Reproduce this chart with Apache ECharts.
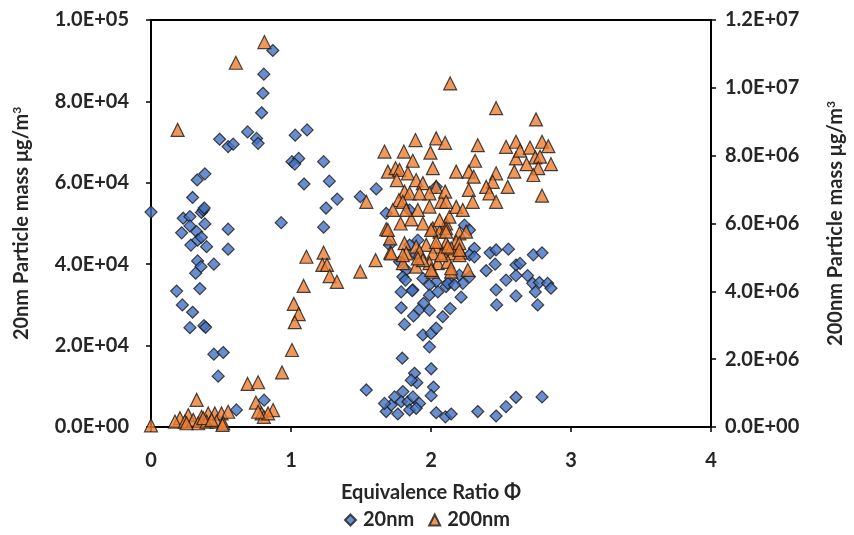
<!DOCTYPE html>
<html><head><meta charset="utf-8">
<script src="https://cdn.jsdelivr.net/npm/echarts@6/dist/echarts.min.js"></script>
<style>html,body{margin:0;padding:0;background:#fff}#c{width:854px;height:535px}</style>
</head><body><div id="c"></div>
<script>
// Equivalence ratio (x) and 20nm particle mass (µg/m3)
var phi20 = [0,0.23,0.278,0.36,0.373,0.219,0.278,0.326,0.385,0.551,0.285,0.333,0.36,0.397,0.551,0.333,0.357,0.319,0.449,0.349,0.183,0.224,0.297,0.278,0.378,0.39,0.449,0.516,0.48,0.61,0.808,0.385,0.33,0.297,0.38,0.49,0.551,0.587,0.69,0.754,0.765,0.79,0.80,0.806,0.87,0.93,1.03,1.115,1.007,1.055,1.027,1.233,1.093,1.274,1.33,1.25,1.233,1.495,1.609,1.68,2.037,1.847,2.239,2.275,1.906,1.847,1.704,2.31,2.275,1.894,1.775,1.823,1.799,1.942,2.037,2.132,2.203,2.275,1.870,1.989,2.108,2.227,1.818,1.787,1.866,1.787,1.811,1.875,1.918,1.947,1.989,1.942,1.989,2.001,2.037,2.084,2.137,2.215,1.989,2.049,2.12,2.168,2.31,2.394,2.458,2.422,2.553,2.465,2.469,2.536,2.607,2.607,2.465,2.731,2.793,2.636,2.607,2.69,2.726,2.774,2.833,2.857,2.745,2.762,1.795,2.001,1.882,1.899,1.859,2.018,2.001,1.538,1.68,1.716,1.74,1.799,1.787,1.835,1.871,1.918,1.847,1.763,1.894,1.668,2.037,2.103,2.144,2.334,2.465,2.536,2.607,2.793];
var mass20 = [52800,51300,51700,52700,53300,47700,49400,48000,49900,48600,44700,45900,46600,44300,43700,40800,39400,37800,40000,34000,33400,30000,28200,24400,24900,24500,17900,18300,12500,4200,6600,62200,60700,56400,53800,70700,68900,69500,72500,70900,69700,77200,82000,86700,92500,50200,71700,73000,65200,66000,64600,65200,59700,60400,56000,53800,49100,56600,58500,52500,59000,53300,49600,48400,45900,44700,44700,43900,42300,42300,40600,38600,36900,36500,35700,35700,37300,36900,33700,34900,34500,35300,36100,33200,33500,29300,25200,27300,28900,30400,28700,22600,19700,23000,24300,27100,29100,31900,32400,33200,35300,34900,41800,38400,40000,42800,43700,33700,30000,36100,32200,39800,43500,42300,42800,40200,37200,37200,35300,35500,35300,34100,33200,30000,16900,14300,13200,10900,11500,9800,7700,9100,3800,5400,7400,8700,6200,6200,7400,5800,4200,3200,4600,5800,3500,2500,3200,3800,2700,5000,7300,7400];
// Equivalence ratio (x) and 200nm particle mass (µg/m3)
var phi200 = [0,0.81,0.606,0.19,1.11,1.233,1.224,1.257,1.276,1.328,1.09,1.02,1.055,1.027,1.007,0.936,0.69,0.765,0.749,0.872,0.79,0.806,0.326,0.266,0.207,0.171,0.242,0.302,0.361,0.409,0.456,0.504,0.551,0.337,0.397,0.468,0.516,0.373,0.836,0.765,0.254,0.433,0.511,1.495,1.604,1.68,1.709,1.709,1.783,1.859,1.942,2.013,2.108,2.203,2.061,1.811,1.894,1.966,2.037,2.108,2.18,2.251,1.823,1.918,2.013,2.084,2.156,2.215,1.799,1.894,1.989,2.049,2.12,1.942,2.144,2.263,2.013,1.989,2.073,2.132,1.692,2.001,2.061,2.108,2.037,2.144,2.203,1.716,1.799,1.906,2.001,2.073,2.203,2.108,2.12,2.203,2.144,1.668,1.806,1.889,2.037,2.101,1.996,1.870,2.334,2.315,2.536,2.607,2.607,2.180,2.270,2.305,2.465,2.441,2.548,2.595,1.692,1.747,1.775,1.835,1.756,1.894,1.942,2.013,2.037,2.101,1.989,1.811,1.847,1.918,1.771,1.799,2.180,2.227,2.270,2.394,2.417,2.465,2.298,1.538,2.108,1.728,1.823,1.906,2.137,2.465,2.75,2.636,2.707,2.793,2.838,2.745,2.779,2.683,2.766,2.857,2.731,2.793];
var mass200 = [50000,11350000,10740000,8760000,5020000,5140000,4780000,4780000,4450000,4280000,4160000,3630000,3330000,3090000,2270000,1610000,1270000,1320000,720000,500000,400000,300000,800000,350000,260000,160000,160000,210000,300000,400000,400000,400000,450000,110000,160000,160000,110000,260000,400000,450000,110000,210000,60000,4580000,4920000,5830000,5140000,5560000,6000000,6120000,6000000,5860000,6000000,5710000,5760000,5420000,5320000,5370000,5320000,5420000,5460000,5760000,5120000,5170000,5120000,5120000,5120000,5140000,4830000,4730000,4830000,4830000,4870000,4920000,4580000,4630000,4580000,6500000,6640000,6200000,5810000,5810000,6100000,5860000,5460000,5270000,5420000,5120000,5070000,4970000,4630000,5070000,5070000,5760000,5320000,5220000,4680000,8120000,8120000,8460000,8510000,8380000,8090000,7850000,8310000,7850000,8260000,8410000,7920000,7530000,7530000,7380000,7480000,7230000,7080000,7530000,7530000,7630000,7580000,7480000,7280000,7280000,7190000,7630000,7080000,6940000,6890000,6940000,6890000,6890000,6690000,6640000,6490000,6400000,6990000,7080000,6890000,6640000,6640000,6640000,6640000,6400000,6400000,6400000,10130000,9400000,9070000,8150000,8240000,8410000,8280000,7950000,7970000,7750000,7630000,7750000,7430000,6820000];
var xTicks = [0,1,2,3,4];
var seriesNames = ['20nm','200nm'];
var xTitle = 'Equivalence Ratio Φ';
var y1Title = '20nm Particle mass μg/m';
var y2Title = '200nm Particle mass μg/m';

function pair(xs, ys){ var o=[]; for(var i=0;i<xs.length;i++) o.push([xs[i], ys[i]]); return o; }
function sci(v){
  if(v===0) return '0.0E+00';
  var s = v.toExponential(1).toUpperCase();
  var p = s.split('E'); var e = parseInt(p[1],10);
  var sign = e<0?'-':'+'; e=Math.abs(e);
  return p[0]+'E'+sign+(e<10?'0':'')+e;
}
var FONT = 'Lato';
var TXT = '#262626';
var FS = 20;
var lblStyle = {fontFamily:FONT,fontWeight:'bold',fontSize:FS,color:TXT};
var nameStyle = {fontFamily:FONT,fontWeight:'bold',fontSize:FS,color:TXT,
  rich:{
    b:{fontFamily:FONT,fontWeight:'bold',fontSize:FS,color:TXT},
    sup:{fontFamily:FONT,fontWeight:'bold',fontSize:12,color:TXT,verticalAlign:'top',padding:[0,0,10,0]}
  }};
var axisLine = {show:true,lineStyle:{color:'#000',width:2}};
var tick = {show:true,length:5,lineStyle:{color:'#000',width:1.5}};

var chart = echarts.init(document.getElementById('c'), null, {renderer:'canvas'});
chart.setOption({
  animation:false,
  backgroundColor:'#fff',
  grid:{left:151,right:142,top:20,bottom:108,show:true,borderColor:'#000',borderWidth:2,backgroundColor:'transparent'},
  legend:{bottom:0,left:'center',itemGap:14,itemWidth:11,itemHeight:11,
    textStyle:{fontFamily:FONT,fontWeight:'bold',fontSize:FS,color:TXT,padding:[0,0,0,2]},
    data:[{name:seriesNames[0],icon:'diamond'},{name:seriesNames[1],icon:'triangle'}]},
  xAxis:{type:'value',min:xTicks[0],max:xTicks[xTicks.length-1],interval:1,
    name:'{b|'+xTitle+'}',nameLocation:'middle',nameGap:56,nameTextStyle:nameStyle,
    axisLine:axisLine,axisTick:tick,
    axisLabel:Object.assign({margin:24},lblStyle),splitLine:{show:false}},
  yAxis:[
    {type:'value',min:0,max:100000,interval:20000,position:'left',
     name:'{b|'+y1Title+'}{sup|3}',nameLocation:'middle',nameGap:118,nameRotate:90,nameTextStyle:nameStyle,
     axisLine:axisLine,axisTick:tick,
     axisLabel:Object.assign({margin:22,formatter:sci},lblStyle),splitLine:{show:false}},
    {type:'value',min:0,max:12000000,interval:2000000,position:'right',
     name:'{b|'+y2Title+'}{sup|3}',nameLocation:'middle',nameGap:114,nameRotate:90,nameTextStyle:nameStyle,
     axisLine:axisLine,axisTick:tick,
     axisLabel:Object.assign({margin:14,formatter:sci},lblStyle),splitLine:{show:false}}
  ],
  series:[
    {name:seriesNames[0],type:'scatter',yAxisIndex:0,symbol:'diamond',symbolSize:12,
     itemStyle:{color:'#4472C4',borderColor:'#1a1a1a',borderWidth:1.2},
     data:pair(phi20,mass20),z:2},
    {name:seriesNames[1],type:'scatter',yAxisIndex:1,symbol:'triangle',symbolSize:13,
     itemStyle:{color:'#ED7D31',borderColor:'#1a1a1a',borderWidth:1.2},
     data:pair(phi200,mass200),z:3}
  ]
});
</script></body></html>
